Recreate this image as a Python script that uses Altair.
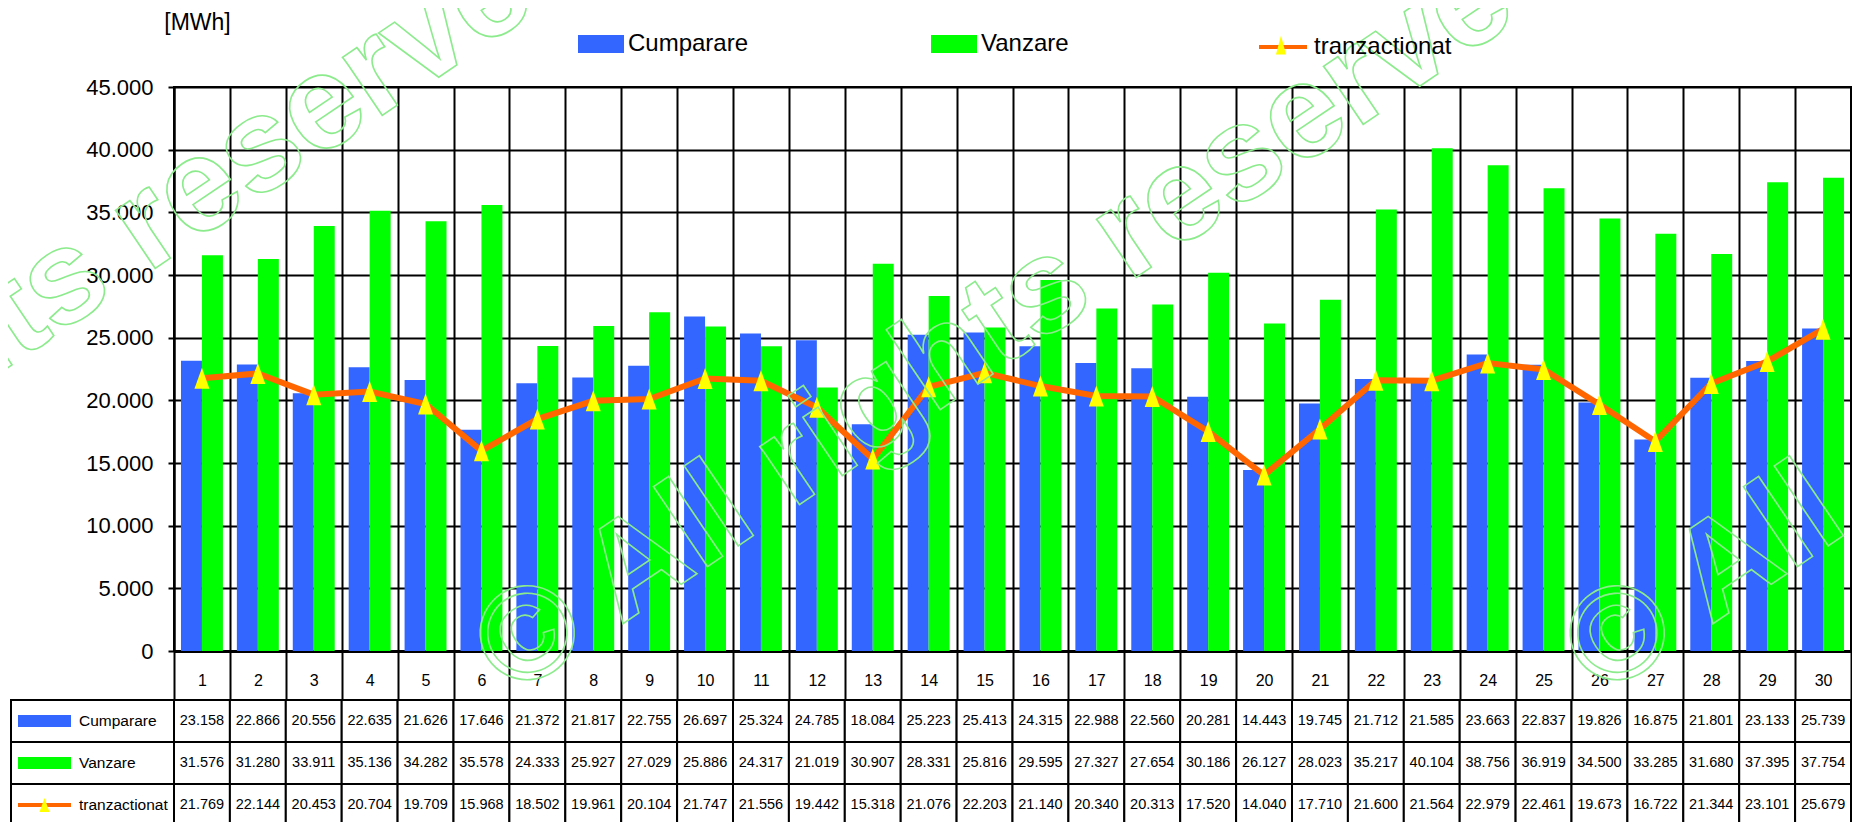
import altair as alt
import pandas as pd

days = list(range(1, 31))
cumparare = [23158, 22866, 20556, 22635, 21626, 17646, 21372, 21817, 22755, 26697,
             25324, 24785, 18084, 25223, 25413, 24315, 22988, 22560, 20281, 14443,
             19745, 21712, 21585, 23663, 22837, 19826, 16875, 21801, 23133, 25739]
vanzare = [31576, 31280, 33911, 35136, 34282, 35578, 24333, 25927, 27029, 25886,
           24317, 21019, 30907, 28331, 25816, 29595, 27327, 27654, 30186, 26127,
           28023, 35217, 40104, 38756, 36919, 34500, 33285, 31680, 37395, 37754]
tranzactionat = [21769, 22144, 20453, 20704, 19709, 15968, 18502, 19961, 20104, 21747,
                 21556, 19442, 15318, 21076, 22203, 21140, 20340, 20313, 17520, 14040,
                 17710, 21600, 21564, 22979, 22461, 19673, 16722, 21344, 23101, 25679]
series_names = ["Cumparare", "Vanzare", "tranzactionat"]
y_ticks = list(range(0, 45001, 5000))
unit_label = "[MWh]"
watermark = "© All rights reserved"
watermark_short = "© All"

BLUE = "#3366FF"
GREEN = "#00FF00"
ORANGE = "#FF6600"
YELLOW = "#FFFF00"
WM = "#8CEB8C"
FONT = "Liberation Sans Narrow, Arial Narrow, Liberation Sans, Arial, sans-serif"
TRI = "M-0.714,1L0,-1L0.714,1Z"

W = 1677
H = 564

df = pd.DataFrame({"day": days, "Cumparare": cumparare, "Vanzare": vanzare,
                   "tranzactionat": tranzactionat})

xscale = alt.Scale(domain=days, paddingInner=0, paddingOuter=0)
yscale = alt.Scale(domain=[0, 45000], nice=False)

x_top = alt.X("day:O", scale=xscale,
              axis=alt.Axis(tickBand="extent", grid=True, gridColor="black", gridWidth=2,
                            gridOpacity=1, labels=True, labelAngle=0, labelFont=FONT,
                            labelFontSize=16, labelColor="black", labelBaseline="middle",
                            labelPadding=-20, ticks=True, tickSize=49, tickWidth=2,
                            tickColor="black", domain=True,
                            domainColor="black", domainWidth=3, title=None))

yaxis = alt.Axis(values=y_ticks, grid=True, gridColor="black", gridWidth=2, gridOpacity=1,
                 domainColor="black", domainWidth=2, tickColor="black", tickWidth=2,
                 tickSize=6, labelFont=FONT, labelFontSize=22, labelColor="black",
                 labelPadding=15,
                 labelExpr="replace(format(datum.value, ','), ',', '.')",
                 title=unit_label, titleAngle=0, titleX=23, titleY=-65,
                 titleAlign="center", titleBaseline="middle", titleFont=FONT,
                 titleFontSize=23, titleFontWeight="normal", titleColor="black")

bars = alt.Chart(df).transform_fold(
    ["Cumparare", "Vanzare"], as_=["series", "value"]
).mark_bar().encode(
    x=x_top,
    xOffset=alt.XOffset("series:N", scale=alt.Scale(domain=["Cumparare", "Vanzare"],
                                                    paddingOuter=0.333, paddingInner=0)),
    y=alt.Y("value:Q", scale=yscale, axis=yaxis),
    color=alt.Color("series:N",
                    scale=alt.Scale(domain=["Cumparare", "Vanzare"], range=[BLUE, GREEN]),
                    legend=alt.Legend(orient="none", legendX=404, legendY=-66,
                                      direction="horizontal", columns=2, title=None,
                                      symbolType="M-1,-0.39H1V0.39H-1Z", symbolSize=2116,
                                      symbolStrokeWidth=0, symbolOpacity=1, labelOffset=4,
                                      columnPadding=182, labelFont=FONT,
                                      labelFontSize=24, labelColor="black", padding=0)),
)

line = alt.Chart(df).transform_calculate(s="'tranzactionat'").mark_line(
    strokeWidth=6
).encode(
    x=alt.X("day:O", scale=xscale),
    y=alt.Y("tranzactionat:Q", scale=yscale),
    stroke=alt.Stroke("s:N", scale=alt.Scale(domain=["tranzactionat"], range=[ORANGE]),
                      legend=alt.Legend(orient="none", legendX=1083, legendY=-66,
                                        title=None, symbolType="M-1,0H1", symbolSize=2304,
                                        symbolStrokeWidth=4, labelOffset=5,
                                        labelFont=FONT, labelFontSize=24,
                                        labelColor="black", padding=0)),
)

points = alt.Chart(df).transform_calculate(s2="' '").mark_point(
    filled=True, shape=TRI, size=441, opacity=1, strokeWidth=0
).encode(
    x=alt.X("day:O", scale=xscale),
    y=alt.Y("tranzactionat:Q", scale=yscale),
    fill=alt.Fill("s2:N", scale=alt.Scale(domain=[" "], range=[YELLOW]),
                  legend=alt.Legend(orient="none", legendX=1083, legendY=-66, title=None,
                                    symbolType="M-0.21,0.4L0,-0.4L0.21,0.4Z",
                                    symbolSize=2304, symbolStrokeWidth=0, symbolOpacity=1,
                                    labelColor="transparent", labelOffset=5,
                                    labelFont=FONT, labelFontSize=24, padding=0)),
)

wm_df = pd.DataFrame({"t": [watermark], "ts": [watermark_short]})


def wm_layer(xv, yv, field):
    return alt.Chart(wm_df).mark_text(
        font="Liberation Sans, Arial, sans-serif", fontSize=133, fontWeight="bold",
        align="left", baseline="middle", angle=326, fill="transparent",
        stroke=WM, strokeWidth=1.6
    ).encode(x=alt.value(xv), y=alt.value(yv), text=f"{field}:N")


wm_layers = [wm_layer(-665, 569, "t"), wm_layer(316, 578, "t"), wm_layer(1406, 578, "ts")]

top = alt.layer(bars, line, points, *wm_layers).properties(width=W, height=H)

# ---- table below ----
rows = series_names
cells = []
for i, d in enumerate(days):
    for name, arr in zip(series_names, [cumparare, vanzare, tranzactionat]):
        cells.append({"day": d, "row": name, "txt": f"{arr[i]:,}".replace(",", ".")})
cells_df = pd.DataFrame(cells)

x_tab = alt.X("day:O", scale=xscale, axis=None)
y_tab = alt.Y("row:N", scale=alt.Scale(domain=rows, paddingInner=0, paddingOuter=0), axis=None)

cell_rects = alt.Chart(cells_df).mark_rect(fill="white", stroke="black", strokeWidth=2).encode(
    x=x_tab, y=y_tab)
cell_text = alt.Chart(cells_df).mark_text(font=FONT, fontSize=14.5, color="black").encode(
    x=x_tab, y=y_tab, text="txt:N")

hdr_df = pd.DataFrame({"row": series_names, "col": [BLUE, GREEN, ORANGE]})
hdr_rects = alt.Chart(hdr_df).mark_rect(fill="white", stroke="black", strokeWidth=2).encode(
    x=alt.value(-163), x2=alt.value(0), y=y_tab)
hdr_text = alt.Chart(hdr_df).mark_text(font=FONT, fontSize=15.5, align="left",
                                       color="black").encode(
    x=alt.value(-95), y=y_tab, text="row:N")
hdr_sym = alt.Chart(hdr_df).mark_tick(orient="horizontal", size=53, thickness=12,
                                      opacity=1).transform_filter(
    "datum.row != 'tranzactionat'").encode(
    x=alt.value(-129.5), y=y_tab, color=alt.Color("col:N", scale=None))
hdr_line = alt.Chart(hdr_df).mark_tick(orient="horizontal", size=53, thickness=4,
                                       opacity=1).transform_filter(
    "datum.row == 'tranzactionat'").encode(
    x=alt.value(-129.5), y=y_tab, color=alt.Color("col:N", scale=None))
hdr_tri = alt.Chart(hdr_df).mark_point(filled=True, shape=TRI, size=196, opacity=1,
                                       color=YELLOW, strokeWidth=0).transform_filter(
    "datum.row == 'tranzactionat'").encode(
    x=alt.value(-129.5), y=y_tab)

table = alt.layer(cell_rects, cell_text, hdr_rects, hdr_text, hdr_sym, hdr_line,
                  hdr_tri).properties(width=W, height=126)

chart = alt.vconcat(top, table, spacing=49, bounds="flush").properties(
    padding={"left": -537, "top": -137, "right": -20, "bottom": 0},
    background="white"
).configure_view(stroke="black", strokeWidth=2)

chart.save("out.html", embed_options={"renderer": "svg", "actions": False})
